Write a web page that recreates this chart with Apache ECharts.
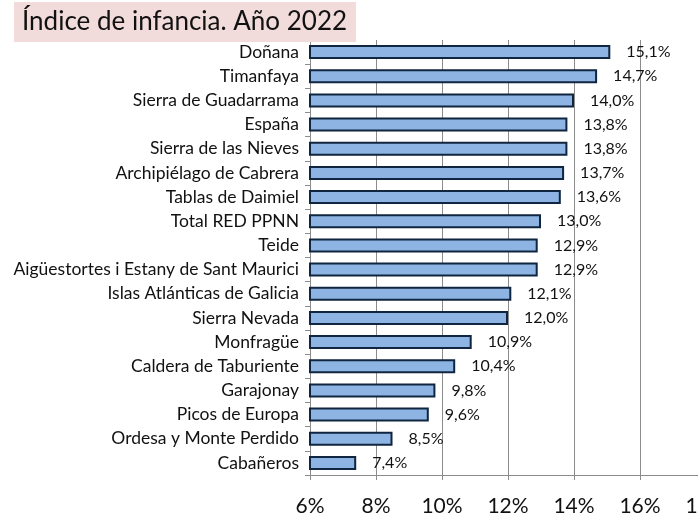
<!DOCTYPE html>
<html>
<head>
<meta charset="utf-8">
<script src="https://cdn.jsdelivr.net/npm/echarts@6/dist/echarts.min.js"></script>
<style>
  html, body { margin: 0; padding: 0; background: #fff; }
  #chart { width: 698px; height: 517px; }
</style>
</head>
<body>
<div id="chart"></div>
<script>
// categorías de abajo a arriba (eje de categorías de ECharts)
const parques = [
  "Cabañeros", "Ordesa y Monte Perdido", "Picos de Europa", "Garajonay",
  "Caldera de Taburiente", "Monfragüe", "Sierra Nevada", "Islas Atlánticas de Galicia",
  "Aigüestortes i Estany de Sant Maurici", "Teide", "Total RED PPNN", "Tablas de Daimiel",
  "Archipiélago de Cabrera", "Sierra de las Nieves", "España", "Sierra de Guadarrama",
  "Timanfaya", "Doñana"
];
const indice = [7.4, 8.5, 9.6, 9.8, 10.4, 10.9, 12.0, 12.1, 12.9, 12.9, 13.0, 13.6, 13.7, 13.8, 13.8, 14.0, 14.7, 15.1];
const ejeMin = 6, ejeMax = 18, ejePaso = 2;

const chart = echarts.init(document.getElementById("chart"));
const fuente = "Lato";

chart.setOption({
  animation: false,
  title: {
    text: "Índice de infancia. Año 2022",
    left: 14,
    top: 2,
    padding: [7, 9, 7, 8],
    backgroundColor: "#f2dcdb",
    textStyle: { fontFamily: fuente, fontSize: 26, fontWeight: "normal", color: "#111" }
  },
  grid: { left: 310, right: -8, top: 40, bottom: 42, outerBoundsMode: "none" },
  xAxis: {
    type: "value",
    min: ejeMin,
    max: ejeMax,
    interval: ejePaso,
    axisLine: { show: true, lineStyle: { color: "#8c8c8c", width: 1 } },
    axisTick: { show: true, length: 5, lineStyle: { color: "#8c8c8c" } },
    splitLine: { show: true, lineStyle: { color: "#8c8c8c", width: 1 } },
    axisLabel: {
      fontFamily: fuente, fontSize: 21, color: "#111", margin: 21,
      formatter: v => v + "%"
    }
  },
  yAxis: {
    type: "category",
    data: parques,
    axisLine: { show: true, lineStyle: { color: "#8c8c8c", width: 1 } },
    axisTick: { show: true, length: 5, lineStyle: { color: "#8c8c8c" } },
    axisLabel: { fontFamily: fuente, fontSize: 17.5, color: "#111", margin: 11 }
  },
  series: [{
    type: "bar",
    data: indice,
    barWidth: "58%",
    itemStyle: { color: "#8db4e2", borderColor: "#10253f", borderWidth: 2 },
    label: {
      show: true,
      position: "right",
      distance: 16,
      fontFamily: fuente,
      fontSize: 16,
      color: "#111",
      formatter: p => p.value.toFixed(1).replace(".", ",") + "%"
    }
  }]
});
</script>
</body>
</html>
